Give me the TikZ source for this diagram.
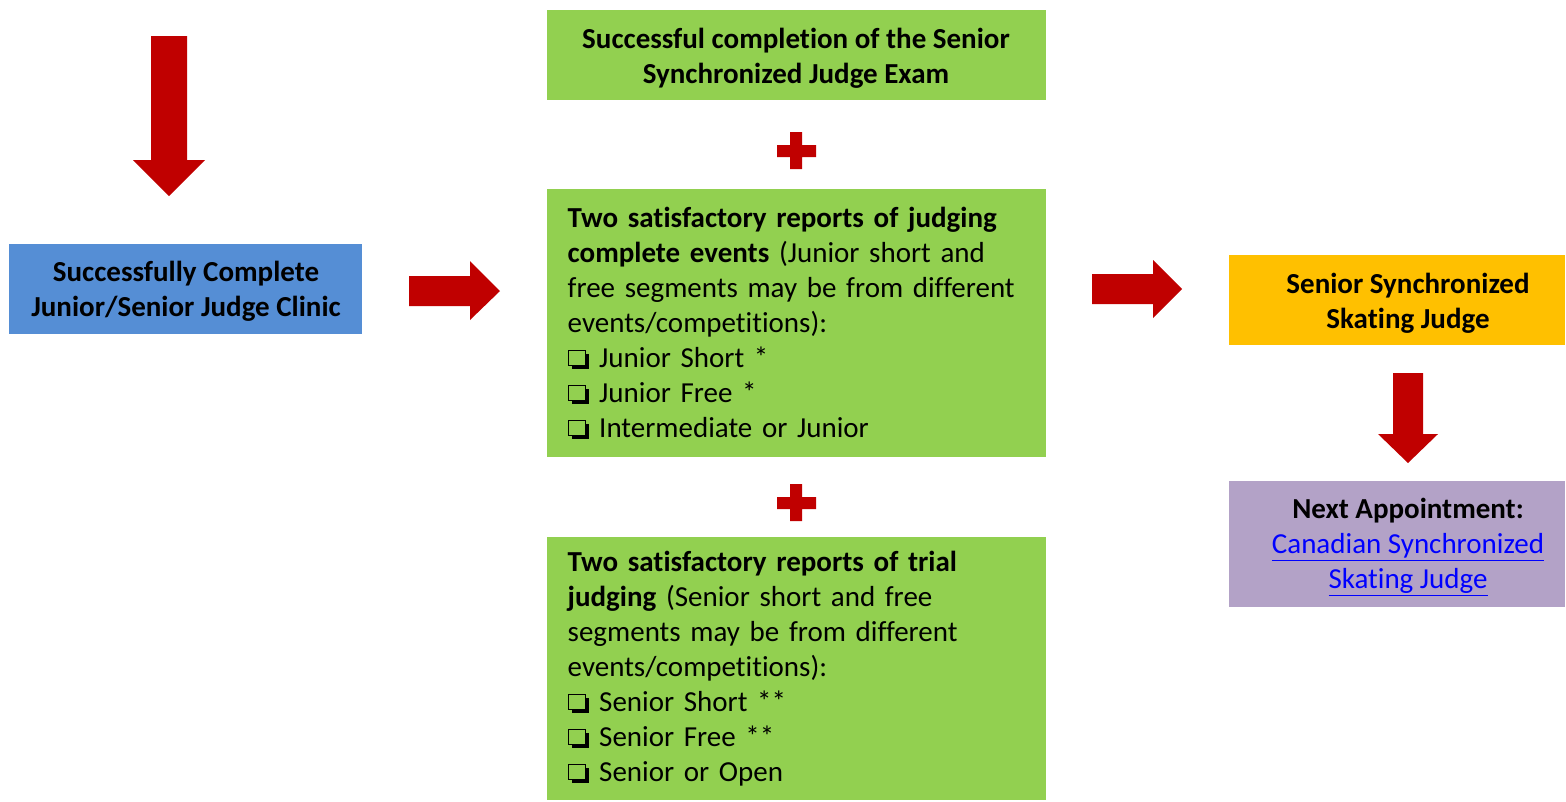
\documentclass[tikz,border=0pt]{standalone}
\usepackage{fontspec}
\setmainfont{Carlito}[Ligatures=NoCommon]
\definecolor{boxgreen}{HTML}{92D050}
\definecolor{boxblue}{HTML}{558ED5}
\definecolor{boxorange}{HTML}{FFC000}
\definecolor{boxpurple}{HTML}{B3A2C7}
\definecolor{arrowred}{HTML}{C00000}
\definecolor{linkblue}{HTML}{0000FF}
\newcommand\cbx{\tikz[baseline=0pt,x=1pt,y=1pt]{\fill[black] (4,-1.5) rectangle (21.5,14); \filldraw[fill=boxgreen,draw=black,line width=1.2pt] (0.6,2.1) rectangle (18,17.4);}\hspace{10pt}}
\tikzset{
  base/.style={rectangle, inner sep=0pt, anchor=north west, font=\fontsize{29}{35}\selectfont},
  gbox/.style={base, fill=boxgreen},
  listbox/.style={gbox, align=left, inner xsep=20.5pt, text width=458pt},
  blockarrow/.style={fill=arrowred},
}
\begin{document}
\begin{tikzpicture}[x=1pt,y=-1pt]
\useasboundingbox (0,0) rectangle (1566,801);
% boxes
\node[gbox, minimum width=499pt, minimum height=90pt] (exam) at (547,10) {};
\node[base, anchor=center, align=center] (examtext) at (796,58)
  {\bfseries Successful completion of the Senior\\\bfseries Synchronized Judge Exam};
\node[listbox, minimum height=268pt] (events) at (547,189)
  {{\bfseries Two satisfactory reports of judging}\\
   {\bfseries complete events} (Junior short and\\
   free segments may be from different\\
   events/competitions):\\
   \cbx Junior Short *\\
   \cbx Junior Free *\\
   \cbx Intermediate or Junior};
\node[listbox, minimum height=263pt] (trial) at (547,537)
  {{\bfseries Two satisfactory reports of trial}\\
   {\bfseries judging} (Senior short and free\\
   segments may be from different\\
   events/competitions):\\
   \cbx Senior Short **\\
   \cbx Senior Free **\\
   \cbx Senior or Open};
\node[base, fill=boxblue, minimum width=353pt, minimum height=90pt] (clinic) at (9,244) {};
\node[base, anchor=center, align=center] (clinictext) at (186,291)
  {\bfseries Successfully Complete\\\bfseries Junior/Senior Judge Clinic};
\node[base, fill=boxorange, minimum width=336pt, minimum height=90pt] (judge) at (1229,255) {};
\node[base, anchor=center, align=center] (judgetext) at (1408,303)
  {\bfseries Senior Synchronized\\\bfseries Skating Judge};
\node[base, fill=boxpurple, minimum width=336pt, minimum height=126pt] (next) at (1229,481) {};
\node[base, anchor=center, align=center] (nexttext) at (1408,547)
  {\bfseries Next Appointment:\\
   \textcolor{linkblue}{\underline{Canadian Synchronized}}\\
   \textcolor{linkblue}{\underline{Skating Judge}}};
% plus signs
\fill[arrowred, shift={(796,151)}] (-6,-19) rectangle (6,18) (-19,-6) rectangle (20,6);
\fill[arrowred, shift={(796,503)}] (-6,-19) rectangle (6,18) (-19,-6) rectangle (20,6);
% block arrows
\fill[blockarrow] (151,36) -- (187,36) -- (187,160) -- (205,160) -- (169,196) -- (133,160) -- (151,160) -- cycle;
\fill[blockarrow] (409,276) -- (470,276) -- (470,261) -- (500,291) -- (470,320) -- (470,306) -- (409,306) -- cycle;
\fill[blockarrow] (1092,274) -- (1153,274) -- (1153,260) -- (1182,289) -- (1153,318) -- (1153,304) -- (1092,304) -- cycle;
\fill[blockarrow] (1393,373) -- (1423,373) -- (1423,434) -- (1438,434) -- (1408,463) -- (1378,434) -- (1393,434) -- cycle;
\end{tikzpicture}
\end{document}
